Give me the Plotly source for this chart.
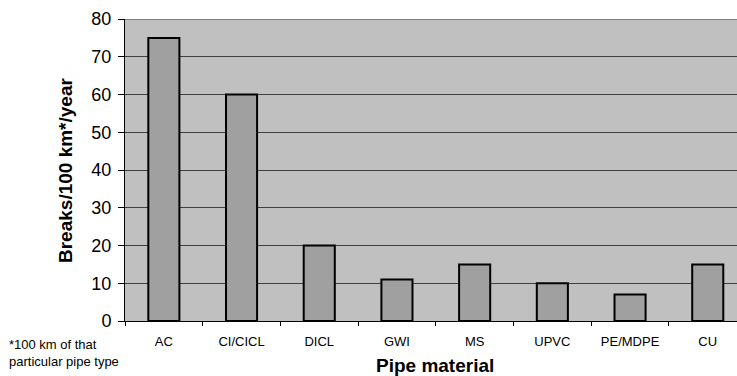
import plotly.graph_objects as go

materials = ["AC", "CI/CICL", "DICL", "GWI", "MS", "UPVC", "PE/MDPE", "CU"]
breaks = [75, 60, 20, 11, 15, 10, 7, 15]
y_ticks = [0, 10, 20, 30, 40, 50, 60, 70, 80]

FONT = "Liberation Sans, Arial, sans-serif"
W, H = 737, 376
L, R, T, B = 125, 0, 19, 55
pw = W - L - R
ph = H - T - B

fig = go.Figure(
    go.Bar(
        x=materials,
        y=breaks,
        width=0.4,
        marker=dict(color="#A0A0A0", line=dict(color="black", width=2)),
    )
)

fig.update_layout(
    width=W,
    height=H,
    margin=dict(l=L, r=R, t=T, b=B),
    paper_bgcolor="white",
    plot_bgcolor="#C0C0C0",
    showlegend=False,
    font=dict(family=FONT, color="black"),
    bargap=0.6,
)

fig.update_xaxes(
    range=[-0.5, -0.5 + pw / 77.7],
    showline=True,
    linecolor="black",
    linewidth=1,
    ticks="outside",
    tickson="boundaries",
    ticklen=4,
    tickcolor="black",
    tickfont=dict(size=13, family=FONT, color="black"),
    ticklabelstandoff=8,
    showgrid=False,
    zeroline=False,
)

fig.update_yaxes(
    range=[0, 80],
    tickvals=y_ticks,
    showline=True,
    linecolor="black",
    linewidth=1,
    ticks="outside",
    ticklen=6,
    tickcolor="black",
    tickfont=dict(size=18, family=FONT, color="black"),
    ticklabelstandoff=3,
    showgrid=True,
    gridcolor="#404040",
    gridwidth=1,
    zeroline=False,
)

fig.add_shape(
    type="line", xref="paper", yref="y", x0=0, x1=1, y0=80, y1=80,
    line=dict(color="#808080", width=2),
)

fig.add_annotation(
    text="<b>Breaks/100 km*/year</b>", textangle=-90,
    xref="paper", yref="paper", x=(65 - L) / pw, y=0.5 - 1 / ph,
    xanchor="center", yanchor="middle", showarrow=False,
    font=dict(size=19, family=FONT, color="black"),
)
fig.add_annotation(
    text="<b>Pipe material</b>",
    xref="paper", yref="paper", x=(435 - L) / pw, y=-(365 - (T + ph)) / ph,
    xanchor="center", yanchor="middle", showarrow=False,
    font=dict(size=19, family=FONT, color="black"),
)
fig.add_annotation(
    text="*100 km of that<br>particular pipe type",
    xref="paper", yref="paper", x=(7 - L) / pw, y=-(353 - (T + ph)) / ph,
    xanchor="left", yanchor="middle", align="left", showarrow=False,
    font=dict(size=13, family=FONT, color="black"),
)

fig.write_html("out.html")
